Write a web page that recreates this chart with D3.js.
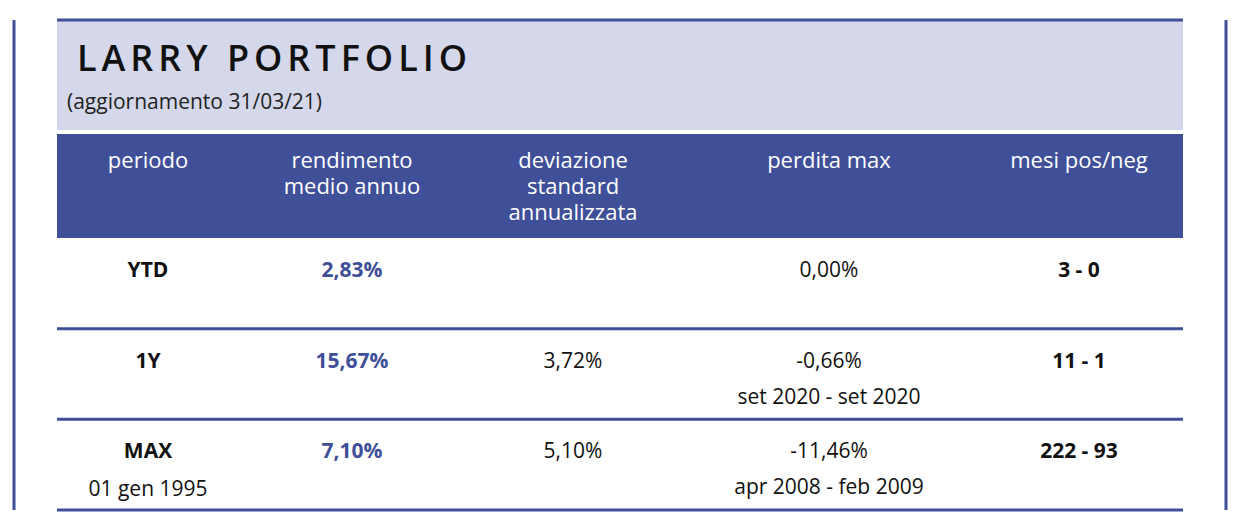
<!DOCTYPE html>
<html><head><meta charset="utf-8">
<script src="https://cdn.jsdelivr.net/npm/d3@7"></script>
<style>body{margin:0;background:#fff}</style>
</head><body>
<svg id="chart" width="1240" height="531"></svg>
<script>
// dati della tabella
const headers = ["periodo", "rendimento\nmedio annuo", "deviazione\nstandard\nannualizzata", "perdita max", "mesi pos/neg"];
const periodi = ["YTD", "1Y", "MAX"];
const periodiSub = ["", "", "01 gen 1995"];
const rendimento = ["2,83%", "15,67%", "7,10%"];
const deviazione = ["", "3,72%", "5,10%"];
const perdita = ["0,00%", "-0,66%", "-11,46%"];
const perditaPeriodo = ["", "set 2020 - set 2020", "apr 2008 - feb 2009"];
const mesi = ["3 - 0", "11 - 1", "222 - 93"];

const blue = "#3f4f98", light = "#d5d8eb";
const svg = d3.select("#chart");
const font = "'Open Sans', sans-serif";

const x0 = 57, x1 = 1183;
const colX = d3.scaleOrdinal().domain(d3.range(5)).range([148, 352, 573, 829, 1079]);
const rowY = d3.scaleLinear().domain([0, 3]).range([238, 510]);

// linee verticali laterali
svg.selectAll("line.side").data([14, 1226]).enter().append("line")
  .attr("x1", d => d).attr("x2", d => d).attr("y1", 20).attr("y2", 510)
  .attr("stroke", blue).attr("stroke-width", 3);

// titolo
svg.append("rect").attr("x", x0).attr("y", 20).attr("width", x1 - x0).attr("height", 110).attr("fill", light);
svg.append("line").attr("x1", x0).attr("x2", x1).attr("y1", 20).attr("y2", 20).attr("stroke", blue).attr("stroke-width", 3);
svg.append("text").attr("x", 77).attr("y", 71).text("LARRY PORTFOLIO")
  .attr("font-family", font).attr("font-size", 36).attr("font-weight", 600).attr("fill", "#111")
  .attr("textLength", 390);
svg.append("text").attr("x", 67).attr("y", 109).text("(aggiornamento 31/03/21)")
  .attr("font-family", font).attr("font-size", 21).attr("fill", "#222");

// intestazione
svg.append("rect").attr("x", x0).attr("y", 134).attr("width", x1 - x0).attr("height", 104).attr("fill", blue);
headers.forEach((h, i) => {
  const t = svg.append("text").attr("text-anchor", "middle").attr("font-family", font)
    .attr("font-size", 22).attr("fill", "#fff");
  h.split("\n").forEach((l, j) => t.append("tspan").attr("x", colX(i)).attr("y", 168 + j * 26).text(l));
});

// righe
svg.selectAll("line.row").data([1, 2, 3]).enter().append("line")
  .attr("x1", x0).attr("x2", x1).attr("y1", d => rowY(d)).attr("y2", d => rowY(d))
  .attr("stroke", blue).attr("stroke-width", 3);

function cell(col, r, txt, dy, opts) {
  if (!txt) return;
  svg.append("text").attr("x", colX(col)).attr("y", rowY(r) + dy)
    .attr("text-anchor", "middle").attr("font-family", font).attr("font-size", 21)
    .attr("font-weight", opts.bold ? 700 : 400).attr("fill", opts.color || "#111").text(txt);
}
periodi.forEach((p, r) => {
  cell(0, r, p, 39, {bold: true});
  cell(0, r, periodiSub[r], 77, {});
  cell(1, r, rendimento[r], 39, {bold: true, color: blue});
  cell(2, r, deviazione[r], 39, {});
  cell(3, r, perdita[r], 39, {});
  cell(3, r, perditaPeriodo[r], 75, {});
  cell(4, r, mesi[r], 39, {bold: true});
});
</script>
</body></html>
